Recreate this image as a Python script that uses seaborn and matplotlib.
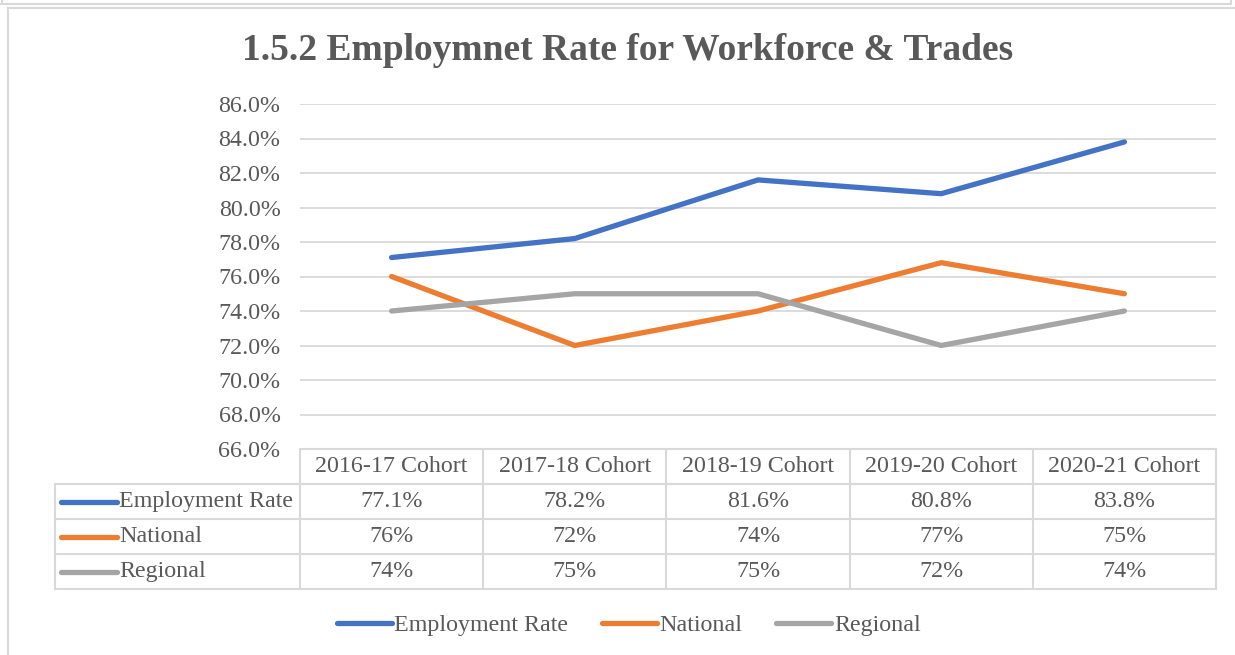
import numpy as np
import pandas as pd
import matplotlib.pyplot as plt
import matplotlib.transforms as mtransforms
from matplotlib.lines import Line2D
import seaborn as sns

# chart data
cohorts = ["2016-17 Cohort", "2017-18 Cohort", "2018-19 Cohort", "2019-20 Cohort", "2020-21 Cohort"]
employment_rate = [77.1, 78.2, 81.6, 80.8, 83.8]
national = [76.0, 72.0, 74.0, 76.8, 75.0]
regional = [74.0, 75.0, 75.0, 72.0, 74.0]
series_names = ["Employment Rate", "National", "Regional"]
series_fmt = ["{:.1f}%", "{:.0f}%", "{:.0f}%"]
colors = ["#4472C4", "#ED7D31", "#A5A5A5"]
y_ticks = np.arange(66, 86.1, 2)

TEXT = "#595959"
GRID = "#D9D9D9"
FS = 17.3
LW = 3.8

sns.set_theme(style="white")
plt.rcParams["font.family"] = ["Liberation Serif", "DejaVu Serif"]

values = [employment_rate, national, regional]
df = pd.DataFrame({
    "idx": np.tile(np.arange(len(cohorts)), len(series_names)),
    "rate": np.concatenate(values),
    "series": np.repeat(series_names, len(cohorts)),
})

W, H = 1235, 655
fig = plt.figure(figsize=(W / 100, H / 100), dpi=100)
ax = fig.add_axes([300 / W, 1 - 449 / H, 916 / W, 345 / H])

sns.lineplot(data=df, x="idx", y="rate", hue="series", hue_order=series_names,
             palette=colors, lw=LW, legend=False, sort=False, ax=ax)
for ln in ax.lines:
    ln.set_solid_capstyle("round")
    ln.set_solid_joinstyle("round")

ax.set_xlim(-0.5, len(cohorts) - 0.5)
ax.set_ylim(66, 86)
ax.set_yticks(y_ticks)
ax.set_yticklabels([f"{v:.1f}%" for v in y_ticks], fontsize=FS, color=TEXT)
ax.tick_params(axis="y", length=0, pad=14)
ax.set_xticks([])
ax.set_xlabel("")
ax.set_ylabel("")
for s in ax.spines.values():
    s.set_visible(False)
for v in y_ticks[1:]:
    ax.axhline(v, color=GRID, lw=1.3, zorder=0)

# data table under the plot
tr = mtransforms.blended_transform_factory(ax.transData, ax.transAxes)
rh = 35 / 345
n = len(cohorts)
xl = -0.5 - 245 / 183.2
lk = dict(color=GRID, lw=1.5, transform=tr, clip_on=False)
# horizontal lines
ax.plot([-0.5, n - 0.5], [0, 0], **lk)
for r in range(1, 5):
    ax.plot([xl, n - 0.5], [-r * rh, -r * rh], **lk)
# vertical lines
for k in range(n + 1):
    ax.plot([k - 0.5, k - 0.5], [0, -4 * rh], **lk)
ax.plot([xl, xl], [-rh, -4 * rh], **lk)

for k, c in enumerate(cohorts):
    ax.text(k, -0.5 * rh, c, transform=tr, ha="center", va="center",
            fontsize=FS, color=TEXT)
for r, (name, vals, fmt, col) in enumerate(zip(series_names, values, series_fmt, colors)):
    yc = -(r + 1.5) * rh
    ax.plot([xl + 6 / 183.2, xl + 62 / 183.2], [yc, yc], color=col, lw=LW,
            solid_capstyle="round", transform=tr, clip_on=False)
    ax.text(xl + 64 / 183.2, yc, name, transform=tr, ha="left", va="center",
            fontsize=FS, color=TEXT)
    for k, v in enumerate(vals):
        ax.text(k, yc, fmt.format(v), transform=tr, ha="center", va="center",
                fontsize=FS, color=TEXT)

# title
fig.text(0.508, 1 - 50 / H, "1.5.2 Employmnet Rate for Workforce & Trades",
         ha="center", va="center", fontsize=27, fontweight="bold", color=TEXT)

# legend
handles = [Line2D([], [], color=c, lw=LW, solid_capstyle="round") for c in colors]
fig.legend(handles, series_names, loc="center", bbox_to_anchor=(0.509, 1 - 625 / H),
           ncol=3, frameon=False, fontsize=FS, handlelength=2.3,
           handletextpad=0.1, columnspacing=1.4, labelcolor=TEXT)

# chart frame
fl = dict(color=GRID, lw=1.5, transform=fig.transFigure)
fig.add_artist(Line2D([8 / W, 8 / W], [0, 1 - 8 / H], **fl))
fig.add_artist(Line2D([8 / W, 1], [1 - 8 / H, 1 - 8 / H], **fl))
fig.add_artist(Line2D([0, 1231 / W], [1 - 4 / H, 1 - 4 / H], **fl))
fig.add_artist(Line2D([1231 / W, 1231 / W], [1 - 4 / H, 1], **fl))
fig.add_artist(Line2D([2 / W, 2 / W], [1 - 4 / H, 1], **fl))

fig.savefig("out.png", dpi=100)
